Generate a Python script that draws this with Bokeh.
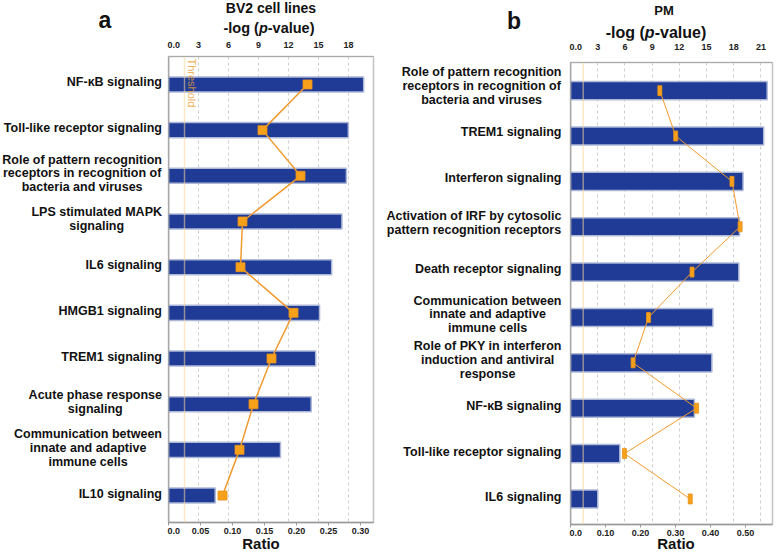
import math
from bokeh.plotting import figure
from bokeh.models import Range1d, LinearAxis, FixedTicker, Span, NumeralTickFormatter, Div
from bokeh.layouts import row, column
from bokeh.core.properties import value
from bokeh.embed import file_html
from bokeh.resources import INLINE

# ---------------- data ----------------
a_labels = ["NF-κB signaling",
            "Toll-like receptor signaling",
            "Role of pattern recognition\nreceptors in recognition of\nbacteria and viruses",
            "LPS stimulated MAPK\nsignaling",
            "IL6 signaling",
            "HMGB1 signaling",
            "TREM1 signaling",
            "Acute phase response\nsignaling",
            "Communication between\ninnate and adaptive\nimmune cells",
            "IL10 signaling"]
a_ratio = [0.305, 0.281, 0.278, 0.271, 0.255, 0.236, 0.230, 0.223, 0.175, 0.073]
a_logp = [13.9, 9.4, 13.2, 7.4, 7.2, 12.5, 10.3, 8.5, 7.1, 5.4]
a_threshold = 1.6
a_top_ticks = [0, 3, 6, 9, 12, 15, 18]
a_bottom_ticks = [0, 0.05, 0.10, 0.15, 0.20, 0.25, 0.30]

b_labels = ["Role of pattern recognition\nreceptors in recognition of\nbacteria and viruses",
            "TREM1 signaling",
            "Interferon signaling",
            "Activation of IRF by cytosolic\npattern recognition receptors",
            "Death receptor signaling",
            "Communication between\ninnate and adaptive\nimmune cells",
            "Role of PKY in interferon\ninduction and antiviral\nresponse",
            "NF-κB signaling",
            "Toll-like receptor signaling",
            "IL6 signaling"]
b_ratio = [0.562, 0.552, 0.493, 0.483, 0.481, 0.407, 0.404, 0.354, 0.141, 0.078]
b_logp = [9.85, 11.6, 17.8, 18.7, 13.4, 8.6, 6.9, 13.9, 5.95, 13.2]
b_threshold = 1.4
b_top_ticks = [0, 3, 6, 9, 12, 15, 18, 21]
b_bottom_ticks = [0, 0.10, 0.20, 0.30, 0.40, 0.50]

FONT = "Liberation Sans"
CSSFONT = "'Liberation Sans', Arial, sans-serif"
BAR_FILL = "#1F3B96"
BAR_LINE = "#AEB9D8"
ORANGE = "#F7A11A"
ORANGE_LINE = "#F29A2E"
TXT = "#111111"
H = 556


def abs_text(x, baseline, html, size, anchor="center"):
    """absolutely positioned text; anchored at x, with the given baseline y"""
    top = baseline - 0.85 * size
    if anchor == "center":
        pos = f"left:{x}px;transform:translateX(-50%);"
    elif anchor == "right":
        pos = f"right:{x}px;"
    else:
        pos = f"left:{x}px;"
    return (f'<div style="position:absolute;top:{top:.1f}px;{pos}font-size:{size}px;'
            f'line-height:1;font-weight:bold;white-space:nowrap;color:{TXT};">{html}</div>')


def box(w, h, inner):
    html = (f'<div style="position:relative;width:{w}px;height:{h}px;'
            f'font-family:{CSSFONT};overflow:visible;">{inner}</div>')
    return Div(text=html, width=w, height=h, margin=0, styles={"overflow": "visible"})


def label_column(w, h, labels, frame_top, frame_h, y_bottom, y_top, right, letter, letter_x, letter_y):
    parts = [abs_text(letter_x, letter_y, letter, 23)]
    for i, t in enumerate(labels):
        cy = frame_top + (i - y_top) / (y_bottom - y_top) * frame_h
        html = t.replace("\n", "<br>")
        parts.append(f'<div style="position:absolute;right:{right}px;top:{cy:.1f}px;'
                     f'transform:translateY(-50%);text-align:center;white-space:nowrap;'
                     f'font-weight:bold;font-size:12.5px;line-height:1.1;color:{TXT};">{html}</div>')
    return box(w, h, "".join(parts))


def panel(ratio, logp, thr, top_ticks, bottom_ticks, ratio_max, p_max,
          y_bottom, y_top, width, height, bl, br, bt, bb, bar_h, narrow_marker, line_w, top_standoff):
    idx = list(range(len(ratio)))
    p = figure(width=width, height=height, x_axis_location="above", y_axis_location=None,
               x_range=Range1d(0, p_max), y_range=Range1d(y_bottom, y_top),
               toolbar_location=None, output_backend="svg",
               min_border_left=bl, min_border_right=br, min_border_top=bt, min_border_bottom=bb,
               background_fill_color="white", border_fill_color="white", margin=0)
    p.outline_line_color = "#C4C4C4"
    p.outline_line_width = 1.5
    p.extra_x_ranges = {"ratio": Range1d(0, ratio_max)}

    ax = p.xaxis[0]
    ax.ticker = FixedTicker(ticks=top_ticks)
    ax.formatter = NumeralTickFormatter(format="0")
    ax.major_label_overrides = {0: "0.0"}
    ax.axis_line_color = "#AAAAAA"
    ax.major_tick_line_color = None
    ax.minor_tick_line_color = None
    ax.major_label_standoff = top_standoff
    ax.major_label_text_font = FONT
    ax.major_label_text_font_style = "bold"
    ax.major_label_text_font_size = "9px"
    ax.major_label_text_color = "#222222"

    bx = LinearAxis(x_range_name="ratio", ticker=FixedTicker(ticks=bottom_ticks),
                    formatter=NumeralTickFormatter(format="0.00"))
    bx.major_label_overrides = {0: "0.0"}
    bx.axis_line_color = "#9A9A9A"
    bx.axis_line_width = 1.5
    bx.major_tick_line_color = "#9A9A9A"
    bx.major_tick_in = 0
    bx.major_tick_out = 3
    bx.minor_tick_line_color = None
    bx.major_label_standoff = 2
    bx.major_label_text_font = FONT
    bx.major_label_text_font_style = "bold"
    bx.major_label_text_font_size = "9px"
    bx.major_label_text_color = "#222222"
    p.add_layout(bx, "below")

    p.xgrid.ticker = FixedTicker(ticks=top_ticks)
    p.xgrid.grid_line_color = "#CFCFCF"
    p.xgrid.grid_line_dash = "3 3"
    p.ygrid.visible = False

    p.hbar(y=idx, left=0, right=ratio, height=bar_h, x_range_name="ratio",
           fill_color=BAR_FILL, line_color=BAR_LINE, line_width=1.5)

    p.add_layout(Span(location=thr, dimension="height", line_color="#F6D59A",
                      line_alpha=0.55, line_width=1.5))
    # left axis line
    p.add_layout(Span(location=0, dimension="height", line_color="#8C8C8C", line_width=1.5))

    p.line(x=logp, y=idx, line_color=ORANGE_LINE, line_width=line_w)
    if narrow_marker:
        p.rect(x=logp, y=idx, width=4, height=10, width_units="screen", height_units="screen",
               fill_color=ORANGE, line_color="#E8901A", line_width=0.8)
    else:
        p.scatter(x=logp, y=idx, marker="square", size=9, fill_color=ORANGE,
                  line_color="#E8901A", line_width=0.8)
    return p


LOGP = "-log (<i>p</i>-value)"

# ---------------- panel a ----------------
A_LABEL_W, A_FIG_W = 167, 221
A_TITLE_H, A_TOP, A_FRAME, A_BOT = 38, 17, 467, 16
A_FIG_H = A_TOP + A_FRAME + A_BOT
A_RATIO_H = H - A_TITLE_H - A_FIG_H
a_yb, a_yt = 9.59, -0.612

pa = panel(a_ratio, a_logp, a_threshold, a_top_ticks, a_bottom_ticks,
           ratio_max=205 / 640.0, p_max=20.5, y_bottom=a_yb, y_top=a_yt,
           width=A_FIG_W, height=A_FIG_H, bl=1, br=A_FIG_W - 206, bt=A_TOP, bb=A_BOT, bar_h=0.33,
           narrow_marker=False, line_w=1.5, top_standoff=3)
pa.text(x=[a_threshold], y=[a_yt], text=["Threshold"], angle=-math.pi / 2,
        text_align="left", text_baseline="bottom", x_offset=1, y_offset=2,
        text_font=value(FONT), text_font_size="11px", text_color="#F0A030", text_alpha=0.8)

a_label_div = label_column(A_LABEL_W, H, a_labels, A_TITLE_H + A_TOP, A_FRAME, a_yb, a_yt,
                           right=5, letter="a", letter_x=105, letter_y=29)
a_title_div = box(A_FIG_W, A_TITLE_H,
                  abs_text(104, 13, "BV2 cell lines", 14) + abs_text(102, 33.5, LOGP, 14.5))
a_ratio_div = box(A_FIG_W, A_RATIO_H, abs_text(94, 11, "Ratio", 15))

# ---------------- panel b ----------------
B_LABEL_W, B_FIG_W = 181, 207
B_TITLE_H, B_TOP, B_FRAME, B_BOT = 40, 19, 465, 16
B_FIG_H = B_TOP + B_FRAME + B_BOT
B_RATIO_H = H - B_TITLE_H - B_FIG_H
b_yb, b_yt = 9.563, -0.62

pb = panel(b_ratio, b_logp, b_threshold, b_top_ticks, b_bottom_ticks,
           ratio_max=202 / 350.0, p_max=202 / 9.07, y_bottom=b_yb, y_top=b_yt,
           width=B_FIG_W, height=B_FIG_H, bl=1, br=B_FIG_W - 203, bt=B_TOP, bb=B_BOT, bar_h=0.40,
           narrow_marker=True, line_w=1.0, top_standoff=7)

b_label_div = label_column(B_LABEL_W, H, b_labels, B_TITLE_H + B_TOP, B_FRAME, b_yb, b_yt,
                           right=7.5, letter="b", letter_x=126, letter_y=30)
b_title_div = box(B_FIG_W, B_TITLE_H,
                  abs_text(95, 15, "PM", 13) + abs_text(87, 39, LOGP, 16))
b_ratio_div = box(B_FIG_W, B_RATIO_H, abs_text(107, 9, "Ratio", 15))

layout = row(a_label_div, column(a_title_div, pa, a_ratio_div, spacing=0),
             b_label_div, column(b_title_div, pb, b_ratio_div, spacing=0),
             spacing=0)
open("out.html", "w").write(file_html(layout, INLINE))
